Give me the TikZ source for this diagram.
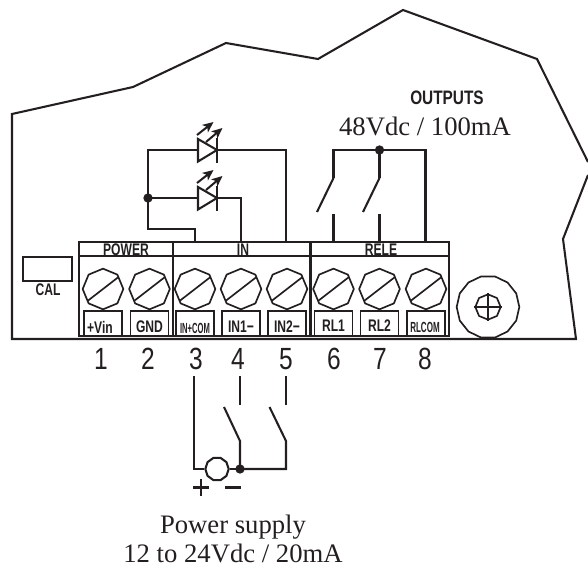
\documentclass[tikz,border=0pt]{standalone}
\usepackage{fontspec}
\setmainfont{Liberation Serif}
\newfontfamily\narrowsans[FakeStretch=0.72]{Liberation Sans}
\newfontfamily\digitsans[FakeStretch=0.8]{Liberation Sans}
\newfontfamily\outsans[FakeStretch=0.79]{Liberation Sans}
\usetikzlibrary{shapes.geometric,arrows.meta,calc}
\definecolor{ink}{HTML}{231F20}
\tikzset{
  wire/.style={draw=ink,line width=1.55pt,line join=miter},
  thinwire/.style={draw=ink,line width=1.25pt},
  blockline/.style={draw=ink,line width=1.5pt},
  signline/.style={draw=ink,line width=1.9pt},
  screw/.style={regular polygon,regular polygon sides=8,shape border rotate=22.5,draw=ink,line width=1.25pt,minimum size=30.5pt,inner sep=0pt,outer sep=0pt},
  lab/.style={text=ink,font=\narrowsans\bfseries\fontsize{12.6}{12.6}\selectfont,inner sep=0pt},
  smalllab/.style={text=ink,font=\narrowsans\bfseries\fontsize{11}{11}\selectfont,inner sep=0pt},
  num/.style={text=ink,font=\digitsans\fontsize{23}{23}\selectfont,inner sep=0pt},
  serif/.style={text=ink,inner sep=0pt,font=\fontsize{20}{20}\selectfont},
  dot/.style={circle,fill=ink,draw=none,minimum size=7pt,inner sep=0pt},
  ledray/.style={draw=ink,line width=1.5pt,-{Stealth[length=8pt,width=7pt,inset=2pt]}},
  lblbox/.style={rectangle,draw=ink,line width=1.25pt,minimum width=28.5pt,minimum height=18.5pt,inner sep=0pt,outer sep=0pt},
}
\newcommand{\termscrew}[3]{%
  \node[screw] (#1) at (#2,#3) {};
  \draw[thinwire] ($(#1)+(-15.5,12)$) -- ($(#1)+(15.5,-12)$);
}
\begin{document}
\begin{tikzpicture}[x=0.75pt,y=-0.75pt]
\useasboundingbox (0,0) rectangle (588,567);
% housing
\draw[wire] (588,162) -- (537,59) -- (403,10) -- (318,59) -- (226,43) -- (133,87) -- (12,114) -- (12,339) -- (576,339) -- (563,239) -- (588,175);
% CAL
\node[rectangle,draw=ink,line width=1.3pt,minimum width=36.5pt,minimum height=18pt,inner sep=0pt] (calbox) at (47.5,269) {};
\node[lab] (cal) at (48,290) {CAL};
% block
\draw[thinwire] (79,242) rectangle (449,336);
\draw[blockline] (79,256) -- (449,256);
\draw[blockline] (79,242) -- (449,242);
\draw[wire] (173,242) -- (173,336);
\draw[wire] (310.5,242) -- (310.5,336);
\node[lab] (hpower) at (126,249.5) {POWER};
\node[lab] (hin) at (243,249.5) {IN};
\node[lab] (hrele) at (381,249.5) {RELE};
% screws
\termscrew{s1}{103}{289}
\termscrew{s2}{149.5}{289}
\termscrew{s3}{195}{289}
\termscrew{s4}{241}{289}
\termscrew{s5}{287}{289}
\termscrew{s6}{333.5}{289}
\termscrew{s7}{379.5}{289}
\termscrew{s8}{426}{289}
% label boxes
\node[lblbox] (b1) at (103,323.5) {};
\node[lblbox] (b2) at (149.5,323.5) {};
\node[lblbox] (b3) at (195,323.5) {};
\node[lblbox] (b4) at (241,323.5) {};
\node[lblbox] (b5) at (287,323.5) {};
\node[lblbox] (b6) at (333.5,323.5) {};
\node[lblbox] (b7) at (379.5,323.5) {};
\node[lblbox] (b8) at (426,323.5) {};
\node[lab] at (100,327) {+Vin};
\node[lab] at (149.5,327) {GND};
\node[smalllab] at (195,328) {\scalebox{.72}[1]{IN+COM}};
\node[lab] at (241,327) {IN1\textminus};
\node[lab] at (287,327) {IN2\textminus};
\node[lab] at (333.5,326) {RL1};
\node[lab] at (379.5,326) {RL2};
\node[smalllab] at (425,327) {\scalebox{.76}[1]{RLCOM}};
% numbers
\foreach \t/\px in {1/101,2/148,3/196,4/238,5/286,6/334,7/380,8/425}{
  \node[num] (n\t) at (\px,359) {\t};
}
% big screw
\node[regular polygon,regular polygon sides=14,draw=ink,line width=1.25pt,minimum size=47pt,inner sep=0pt] (big) at (488,307) {};
\node[regular polygon,regular polygon sides=8,shape border rotate=22.5,draw=ink,line width=1.25pt,minimum size=19pt,inner sep=0pt] (bigin) at (488,307) {};
\draw[thinwire] (bigin.west) -- (bigin.east);
\draw[thinwire] (bigin.north) -- (bigin.south);
% LEDs
\coordinate (j1) at (148,198);
\coordinate (tl1) at (198,150);
\coordinate (tl2) at (198,198);
\coordinate (c1) at (217,150);
\coordinate (c2) at (217,198);
\draw[wire] (tl1) -- (148,150) -- (148,229) -- (195,229) -- (195,242);
\draw[wire] (j1) -- (tl2);
\draw[wire] (c1) -- (286,150) -- (286,242);
\draw[wire] (c2) -- (241,198) -- (241,242);
\draw[wire] (198,139) -- (217,150) -- (198,161.5) -- cycle;
\draw[wire] (198,187) -- (217,198) -- (198,209.5) -- cycle;
\draw[wire] (217,138) -- (217,162.5);
\draw[wire] (217,186) -- (217,210.5);
\draw[ledray] (197,135) -- (213.5,122);
\draw[ledray] (206,142) -- (222.5,128);
\draw[ledray] (197,183) -- (213.5,170);
\draw[ledray] (206,190) -- (222.5,176);
\node[dot] (jd) at (j1) {};
% relay
\coordinate (r6) at (333.5,178);
\coordinate (r7) at (379.5,178);
\draw[wire] (r6) -- (333.5,150) -- (425.5,150) -- (425.5,242);
\draw[wire] (379.5,150) -- (r7);
\draw[wire] (r6) -- (317,212);
\draw[wire] (r7) -- (363,212);
\draw[wire] (333.5,214) -- (333.5,242);
\draw[wire] (379.5,214) -- (379.5,242);
\node[dot] (rd) at (379.5,150) {};
% supply
\node[regular polygon,regular polygon sides=10,draw=ink,line width=1.55pt,minimum size=17.5pt,inner sep=0pt] (psu) at (217,469) {};
\coordinate (q) at (240,469);
\draw[wire] (psu.west) -- (194,469) -- (194,376);
\draw[wire] (psu.east) -- (q);
\draw[wire] (q) -- (286,469) -- (286,441) -- (269.5,407);
\draw[wire] (q) -- (240,441) -- (224,407);
\draw[wire] (240,376) -- (240,405);
\draw[wire] (286,376) -- (286,405);
\node[dot] (qd) at (q) {};
\draw[signline] (193,487.5) -- (209,487.5);
\draw[signline] (201,479) -- (201,496);
\draw[signline] (225,487.5) -- (241,487.5);
% texts
\node[text=ink,font=\outsans\bfseries\fontsize{14.6}{14.6}\selectfont,inner sep=0pt] (outs) at (447,97.5) {OUTPUTS};
\node[serif] (vout) at (425,126) {48Vdc / 100mA};
\node[serif,anchor=base] (ps1) at (233,533) {Power supply};
\node[serif,anchor=base] (ps2) at (233,562.5) {12 to 24Vdc / 20mA};
\end{tikzpicture}
\end{document}
